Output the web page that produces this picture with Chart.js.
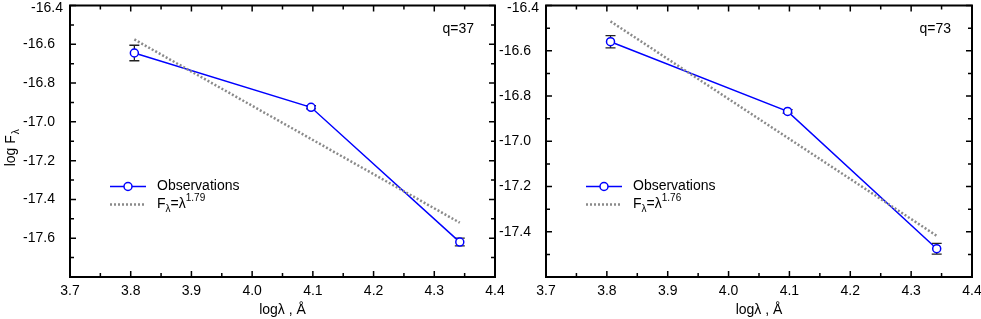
<!DOCTYPE html>
<html>
<head>
<meta charset="utf-8">
<script src="https://cdn.jsdelivr.net/npm/chart.js@4.4.0/dist/chart.umd.min.js"></script>
<style>
  body { margin: 0; background: #fff; width: 981px; height: 319px; overflow: hidden; position: relative; }
  canvas { position: absolute; top: 0; }
</style>
</head>
<body>
<canvas id="left" width="510" height="319" style="left:0"></canvas>
<canvas id="right" width="491" height="319" style="left:490px"></canvas>
<script>
// wavelengths (log lambda, Angstrom) of the three bands
const logLambda = [3.806, 4.097, 4.342];

// q=37 panel
const obsQ37 = [-16.645, -16.925, -17.62];
const errQ37 = [0.04, 0.008, 0.02];
const fitX = [3.806, 4.342];
const fitQ37 = [-16.575, -17.52];

// q=73 panel
const obsQ73 = [-16.56, -16.868, -17.475];
const errQ73 = [0.027, 0.008, 0.024];
const fitQ73 = [-16.47, -17.418];

const xTickLabels = ['3.7', '3.8', '3.9', '4.0', '4.1', '4.2', '4.3', '4.4'];
const yLabelsQ37 = ['-16.4', '-16.6', '-16.8', '-17.0', '-17.2', '-17.4', '-17.6'];
const yLabelsQ73 = ['-16.4', '-16.6', '-16.8', '-17.0', '-17.2', '-17.4'];

const FONT = '"Liberation Sans", Arial, Helvetica, sans-serif';
Chart.defaults.font.family = FONT;
Chart.defaults.font.size = 14;
Chart.defaults.color = '#000';

const BLUE = '#0000ff';
const GREY = '#8a8a8a';
const Y_PAD = 7;

// frame, inward ticks, error bars, legend and labels
function decorPlugin(cfg) {
  return {
    id: 'decor',
    beforeDatasetsDraw(chart) {
      const ctx = chart.ctx, xs = chart.scales.x, ys = chart.scales.y;
      ctx.save();
      ctx.strokeStyle = '#222';
      ctx.lineWidth = 1.3;
      cfg.obs.forEach((v, i) => {
        const px = xs.getPixelForValue(logLambda[i]);
        const y1 = ys.getPixelForValue(v + cfg.err[i]);
        const y2 = ys.getPixelForValue(v - cfg.err[i]);
        ctx.beginPath();
        ctx.moveTo(px, y1); ctx.lineTo(px, y2);
        ctx.moveTo(px - 5, y1); ctx.lineTo(px + 5, y1);
        ctx.moveTo(px - 5, y2); ctx.lineTo(px + 5, y2);
        ctx.stroke();
      });
      ctx.restore();
    },
    afterDraw(chart) {
      const ctx = chart.ctx, a = chart.chartArea;
      const xs = chart.scales.x, ys = chart.scales.y;
      ctx.save();
      // inward ticks
      ctx.strokeStyle = '#000';
      ctx.lineWidth = 1.5;
      ctx.beginPath();
      for (let k = 0; k <= 14; k++) {
        const v = xs.min + k * 0.05;
        const px = xs.getPixelForValue(v);
        const len = k % 2 === 0 ? 6 : 4;
        ctx.moveTo(px, a.bottom); ctx.lineTo(px, a.bottom - len);
        ctx.moveTo(px, a.top); ctx.lineTo(px, a.top + len);
      }
      const nY = Math.round((ys.max - ys.min) / 0.1);
      for (let k = 0; k <= nY; k++) {
        const v = ys.min + k * 0.1;
        const py = ys.getPixelForValue(v);
        const len = k % 2 === 0 ? 6 : 4;
        ctx.moveTo(a.left, py); ctx.lineTo(a.left + len, py);
        ctx.moveTo(a.right, py); ctx.lineTo(a.right - len, py);
      }
      ctx.stroke();
      // frame
      ctx.lineWidth = 2;
      ctx.strokeRect(a.left, a.top, a.right - a.left, a.bottom - a.top);

      // top y label, kept inside the page
      ctx.fillStyle = '#000';
      ctx.font = '14px ' + FONT;
      ctx.textAlign = 'right';
      ctx.textBaseline = 'middle';
      const topLabel = cfg.yLabels.find(s => Math.abs(Number(s) - ys.max) < 1e-6);
      if (topLabel) ctx.fillText(topLabel, a.left - Y_PAD, Math.max(ys.getPixelForValue(ys.max), 8));

      // panel tag
      ctx.fillText(cfg.tag, a.right - 21, a.top + 24);

      // legend
      const lx = a.left + 40, ly1 = a.top + 181, ly2 = a.top + 199;
      ctx.strokeStyle = BLUE;
      ctx.lineWidth = 1.5;
      ctx.beginPath(); ctx.moveTo(lx, ly1); ctx.lineTo(lx + 36, ly1); ctx.stroke();
      ctx.beginPath(); ctx.arc(lx + 18, ly1, 4, 0, Math.PI * 2);
      ctx.fillStyle = '#fff'; ctx.fill(); ctx.stroke();
      ctx.strokeStyle = GREY;
      ctx.lineWidth = 2.5;
      ctx.setLineDash([2, 2]);
      ctx.beginPath(); ctx.moveTo(lx, ly2); ctx.lineTo(lx + 36, ly2); ctx.stroke();
      ctx.setLineDash([]);
      ctx.fillStyle = '#000';
      ctx.textAlign = 'left';
      ctx.font = '14px ' + FONT;
      const tx = lx + 47;
      ctx.fillText('Observations', tx, ly1);
      let x = tx;
      ctx.fillText('F', x, ly2); x += ctx.measureText('F').width;
      ctx.font = '10px ' + FONT;
      ctx.fillText('λ', x, ly2 + 5); x += ctx.measureText('λ').width;
      ctx.font = '14px ' + FONT;
      ctx.fillText('=λ', x, ly2); x += ctx.measureText('=λ').width;
      ctx.font = '10px ' + FONT;
      ctx.fillText(cfg.power, x, ly2 - 6);

      // x title
      ctx.font = '14px ' + FONT;
      ctx.textAlign = 'center';
      ctx.fillText('logλ , Å', (a.left + a.right) / 2, 310);

      // y title (left panel only)
      if (cfg.yTitle) {
        ctx.translate(11, (a.top + a.bottom) / 2 + 7);
        ctx.rotate(-Math.PI / 2);
        ctx.textAlign = 'left';
        ctx.font = '14px ' + FONT;
        const w1 = ctx.measureText('log F').width;
        ctx.font = '10px ' + FONT;
        const w2 = ctx.measureText('λ').width;
        let s = -(w1 + w2) / 2;
        ctx.font = '14px ' + FONT;
        ctx.fillText('log F', s, 0);
        ctx.font = '10px ' + FONT;
        ctx.fillText('λ', s + w1 + 1, 5);
      }
      ctx.restore();
    }
  };
}

function makePanel(id, obs, fit, yMin, yLabels, yAxisWidth, padRight, decor) {
  return new Chart(document.getElementById(id), {
    type: 'scatter',
    data: {
      datasets: [
        {
          label: 'fit',
          data: fitX.map((x, i) => ({ x: x, y: fit[i] })),
          showLine: true,
          borderColor: GREY,
          borderWidth: 2.5,
          borderDash: [2, 2],
          pointRadius: 0
        },
        {
          label: 'Observations',
          data: logLambda.map((x, i) => ({ x: x, y: obs[i] })),
          showLine: true,
          borderColor: BLUE,
          borderWidth: 1.5,
          pointRadius: 4,
          pointBorderWidth: 1.5,
          pointBackgroundColor: '#fff',
          pointBorderColor: BLUE
        }
      ]
    },
    options: {
      responsive: false,
      animation: false,
      layout: { padding: { top: 5, right: padRight, left: 0, bottom: 0 } },
      plugins: { legend: { display: false }, tooltip: { enabled: false } },
      scales: {
        x: {
          type: 'linear',
          min: 3.7,
          max: 4.4,
          grid: { display: false },
          border: { display: false },
          ticks: {
            stepSize: 0.1,
            padding: -2,
            maxRotation: 0,
            autoSkip: false,
            callback: (v) => {
              const s = Number(v).toFixed(1);
              return xTickLabels.includes(s) ? s : '';
            }
          },
          afterFit: (s) => { s.height = 42; s.paddingLeft = 0; s.paddingRight = 0; }
        },
        y: {
          type: 'linear',
          min: yMin,
          max: -16.4,
          grid: { display: false },
          border: { display: false },
          ticks: {
            stepSize: 0.2,
            padding: Y_PAD,
            autoSkip: false,
            callback: (v) => {
              const s = Number(v).toFixed(1);
              // the top label is drawn by the plugin so it stays on the page
              if (Math.abs(v - (-16.4)) < 1e-6) return '';
              return yLabels.includes(s) ? s : '';
            }
          },
          afterFit: (s) => { s.width = yAxisWidth; s.paddingTop = 0; s.paddingBottom = 0; }
        }
      }
    },
    plugins: [decorPlugin(decor)]
  });
}

makePanel('left', obsQ37, fitQ37, -17.8, yLabelsQ37, 70, 15,
  { obs: obsQ37, err: errQ37, yLabels: yLabelsQ37, tag: 'q=37', power: '1.79', yTitle: true });
makePanel('right', obsQ73, fitQ73, -17.6, yLabelsQ73, 56, 9,
  { obs: obsQ73, err: errQ73, yLabels: yLabelsQ73, tag: 'q=73', power: '1.76', yTitle: false });
</script>
</body>
</html>
